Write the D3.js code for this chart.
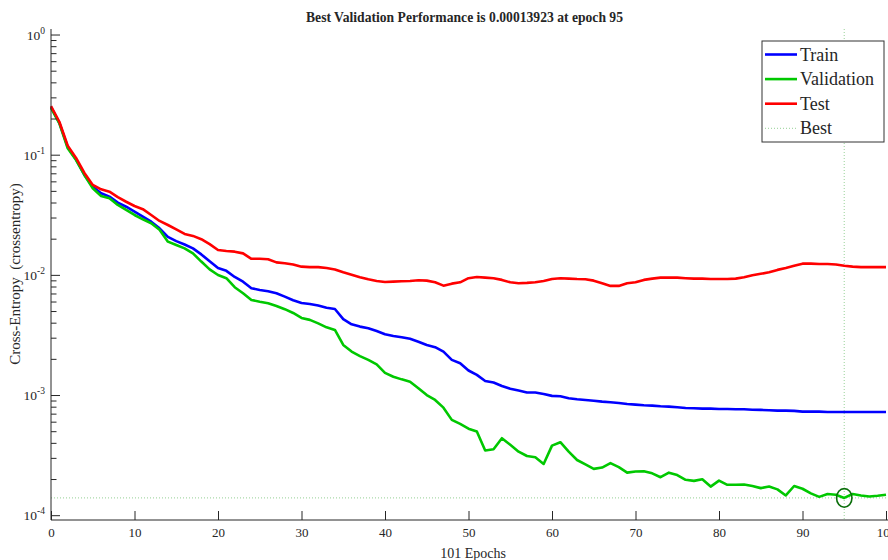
<!DOCTYPE html>
<html>
<head>
<meta charset="utf-8">
<script src="https://cdn.jsdelivr.net/npm/d3@7"></script>
<style>
body { margin: 0; background: #fff; }
text { font-family: "Liberation Serif", "Times New Roman", serif; fill: #262626; }
</style>
</head>
<body>
<div id="chart"></div>
<script>
// Performance per epoch (epochs 0..100)
const trainPerf = [
  0.249, 0.184, 0.116, 0.0912, 0.0678, 0.0542, 0.0478, 0.0448, 0.0399, 0.0369,
  0.0336, 0.0305, 0.0277, 0.0244, 0.0207, 0.0191, 0.0179, 0.0166, 0.0148, 0.0130,
  0.0114, 0.0108, 0.00961, 0.00878, 0.00774, 0.00749, 0.00731, 0.00703, 0.00659, 0.00615,
  0.00584, 0.00573, 0.00555, 0.00533, 0.00520, 0.00428, 0.00388, 0.00371, 0.00360, 0.00341,
  0.00321, 0.00310, 0.00303, 0.00294, 0.00278, 0.00261, 0.00250, 0.00230, 0.00196, 0.00184,
  0.00160, 0.00147, 0.00131, 0.00127, 0.00119, 0.00113, 0.00109, 0.00105, 0.00105, 0.00102,
  0.000984, 0.000977, 0.000940, 0.000923, 0.000910, 0.000897, 0.000881, 0.000871, 0.000859, 0.000843,
  0.000832, 0.000822, 0.000816, 0.000807, 0.000801, 0.000792, 0.000781, 0.000776, 0.000771, 0.000771,
  0.000766, 0.000766, 0.000762, 0.000762, 0.000755, 0.000752, 0.000748, 0.000741, 0.000741, 0.000738,
  0.000728, 0.000728, 0.000728, 0.000723, 0.000723, 0.000723, 0.000723, 0.000723, 0.000723, 0.000723,
  0.000723
];
const valPerf = [
  0.245, 0.182, 0.113, 0.0903, 0.0678, 0.0525, 0.0453, 0.0434, 0.0382, 0.0347,
  0.0315, 0.0290, 0.0269, 0.0237, 0.0189, 0.0177, 0.0166, 0.0151, 0.0129, 0.0111,
  0.00998, 0.00938, 0.00789, 0.00703, 0.00618, 0.00598, 0.00581, 0.00551, 0.00518, 0.00482,
  0.00438, 0.00422, 0.00395, 0.00366, 0.00348, 0.00261, 0.00230, 0.00211, 0.00196, 0.00180,
  0.00153, 0.00142, 0.00135, 0.00129, 0.00114, 0.00100, 0.000910, 0.000785, 0.000621, 0.000575,
  0.000525, 0.000497, 0.000345, 0.000354, 0.000437, 0.000385, 0.000338, 0.000311, 0.000304, 0.000267,
  0.000379, 0.000405, 0.000338, 0.000288, 0.000265, 0.000243, 0.000249, 0.000271, 0.000251, 0.000226,
  0.000231, 0.000232, 0.000223, 0.000207, 0.000226, 0.000216, 0.000197, 0.000193, 0.000199, 0.000173,
  0.000194, 0.000179, 0.000179, 0.000180, 0.000175, 0.000168, 0.000173, 0.000164, 0.000146, 0.000175,
  0.000166, 0.000152, 0.000142, 0.000150, 0.000148, 0.00013923, 0.000150, 0.000146, 0.000143, 0.000145,
  0.000148
];
const testPerf = [
  0.254, 0.188, 0.119, 0.0939, 0.0705, 0.0560, 0.0515, 0.0492, 0.0443, 0.0406,
  0.0374, 0.0352, 0.0315, 0.0281, 0.0260, 0.0239, 0.0219, 0.0211, 0.0198, 0.0180,
  0.0161, 0.0158, 0.0156, 0.0151, 0.0136, 0.0136, 0.0135, 0.0127, 0.0125, 0.0122,
  0.0117, 0.0116, 0.0116, 0.0114, 0.0111, 0.0105, 0.0100, 0.00955, 0.00919, 0.00890,
  0.00873, 0.00878, 0.00885, 0.00890, 0.00902, 0.00895, 0.00867, 0.00813, 0.00845, 0.00867,
  0.00938, 0.00961, 0.00948, 0.00938, 0.00908, 0.00867, 0.00851, 0.00857, 0.00867, 0.00890,
  0.00925, 0.00938, 0.00930, 0.00923, 0.00920, 0.00895, 0.00851, 0.00809, 0.00809, 0.00851,
  0.00867, 0.00908, 0.00930, 0.00948, 0.00948, 0.00948, 0.00938, 0.00930, 0.00930, 0.00925,
  0.00925, 0.00925, 0.00930, 0.00955, 0.00993, 0.0102, 0.0105, 0.0110, 0.0114, 0.0119,
  0.0124, 0.0124, 0.0123, 0.0123, 0.0122, 0.0119, 0.0117, 0.0116, 0.0116, 0.0116,
  0.0116
];
const bestEpoch = 95;
const bestPerf = 0.00013923;

const xTickValues = [0, 10, 20, 30, 40, 50, 60, 70, 80, 90, 100];
const yMajorExps = [0, -1, -2, -3, -4];
const legendNames = ["Train", "Validation", "Test", "Best"];

const titleText = "Best Validation Performance is 0.00013923 at epoch 95";
const xLabel = "101 Epochs";
const yLabel = "Cross-Entropy  (crossentropy)";

// colours
const colTrain = "#0000ff", colVal = "#00c800", colTest = "#ff0000";
const colBest = "#a9d9a9", colCircle = "#0a6e0a", colAxis = "#262626";

const W = 888, H = 560;
const plotLeft = 51, plotRight = 886, plotTop = 29, plotBottom = 520;

const svg = d3.select("#chart")
  .append("svg")
  .attr("width", W)
  .attr("height", H);

const x = d3.scaleLinear()
  .domain([0, 100])
  .range([plotLeft, plotRight]);

const y = d3.scaleLog()
  .domain([Math.pow(10, -4.04), Math.pow(10, 0.046)])
  .range([plotBottom, plotTop]);

// best lines (dotted), under the curves
svg.append("line")
  .attr("x1", x(bestEpoch)).attr("x2", x(bestEpoch))
  .attr("y1", plotTop).attr("y2", plotBottom)
  .attr("stroke", colBest).attr("stroke-width", 1.2)
  .attr("stroke-dasharray", "1,2");

svg.append("line")
  .attr("x1", plotLeft).attr("x2", plotRight)
  .attr("y1", y(bestPerf)).attr("y2", y(bestPerf))
  .attr("stroke", colBest).attr("stroke-width", 1.2)
  .attr("stroke-dasharray", "1,2");

// curves
const line = d3.line()
  .x((d, i) => x(i))
  .y(d => y(d));

[[trainPerf, colTrain], [valPerf, colVal], [testPerf, colTest]].forEach(([data, c]) => {
  svg.append("path")
    .datum(data)
    .attr("fill", "none")
    .attr("stroke", c)
    .attr("stroke-width", 2.6)
    .attr("stroke-linejoin", "round")
    .attr("d", line);
});

// best marker
svg.append("ellipse")
  .attr("cx", x(bestEpoch))
  .attr("cy", y(bestPerf))
  .attr("rx", 7.7).attr("ry", 9.3)
  .attr("fill", "none")
  .attr("stroke", colCircle)
  .attr("stroke-width", 1.6);

// X axis (ticks point inward)
const xAxis = svg.append("g")
  .attr("transform", `translate(0,${plotBottom})`)
  .call(d3.axisBottom(x).tickValues(xTickValues).tickSizeInner(-9).tickSizeOuter(0).tickPadding(8));
xAxis.select(".domain").attr("stroke", colAxis).attr("d", `M${plotLeft},0H${W}`);
xAxis.selectAll(".tick line").attr("stroke", colAxis);
xAxis.selectAll("text")
  .style("font-family", '"Liberation Serif", serif')
  .style("font-size", "13px")
  .attr("fill", colAxis);

// Y axis: minor ticks
const yMinor = [];
yMajorExps.forEach(e => {
  for (let k = 2; k <= 9; k++) {
    const v = k * Math.pow(10, e - 1);
    if (v >= y.domain()[0] && v <= y.domain()[1]) yMinor.push(v);
  }
});
const yMajor = yMajorExps.map(e => Math.pow(10, e));

const yAxisMinor = svg.append("g")
  .attr("transform", `translate(${plotLeft},0)`)
  .call(d3.axisLeft(y).tickValues(yMinor).tickSizeInner(-5.5).tickSizeOuter(0).tickFormat(""));
yAxisMinor.select(".domain").remove();
yAxisMinor.selectAll(".tick line").attr("stroke", colAxis);

const yAxis = svg.append("g")
  .attr("transform", `translate(${plotLeft},0)`)
  .call(d3.axisLeft(y).tickValues(yMajor).tickSizeInner(-9).tickSizeOuter(0).tickFormat(""));
yAxis.select(".domain").attr("stroke", colAxis).attr("d", `M0,${plotTop}V${plotBottom}`);
yAxis.selectAll(".tick line").attr("stroke", colAxis);

// y tick labels as 10 with superscript exponent
const yLab = svg.append("g");
yMajorExps.forEach(e => {
  const t = yLab.append("text")
    .attr("x", plotLeft - 6)
    .attr("y", y(Math.pow(10, e)) + 5)
    .attr("text-anchor", "end")
    .style("font-size", "13.5px");
  t.append("tspan").text("10");
  t.append("tspan")
    .attr("dy", -6)
    .style("font-size", "9.5px")
    .text(String(e));
});

// title
svg.append("text")
  .attr("x", 464.5)
  .attr("y", 22)
  .attr("text-anchor", "middle")
  .attr("textLength", 317)
  .attr("lengthAdjust", "spacingAndGlyphs")
  .style("font-size", "15px")
  .style("font-weight", "bold")
  .attr("fill", "#000")
  .text(titleText);

// axis labels
svg.append("text")
  .attr("x", 473)
  .attr("y", 558)
  .attr("text-anchor", "middle")
  .style("font-size", "14px")
  .text(xLabel);

svg.append("text")
  .attr("transform", `translate(20,274) rotate(-90)`)
  .attr("text-anchor", "middle")
  .style("font-size", "15px")
  .style("white-space", "pre")
  .text(yLabel);

// legend
const legend = svg.append("g");
legend.append("rect")
  .attr("x", 762).attr("y", 41)
  .attr("width", 122).attr("height", 101)
  .attr("fill", "#fff")
  .attr("stroke", "#333")
  .attr("stroke-width", 1);

const legendColors = [colTrain, colVal, colTest, colBest];
legendNames.forEach((name, i) => {
  const ly = 54.5 + i * 24.6;
  legend.append("line")
    .attr("x1", 765).attr("x2", 797)
    .attr("y1", ly).attr("y2", ly)
    .attr("stroke", legendColors[i])
    .attr("stroke-width", name === "Best" ? 1.2 : 2.6)
    .attr("stroke-dasharray", name === "Best" ? "1,2" : null);
  legend.append("text")
    .attr("x", 800)
    .attr("y", ly + 6)
    .style("font-size", "18px")
    .attr("fill", "#000")
    .text(name);
});
</script>
</body>
</html>
